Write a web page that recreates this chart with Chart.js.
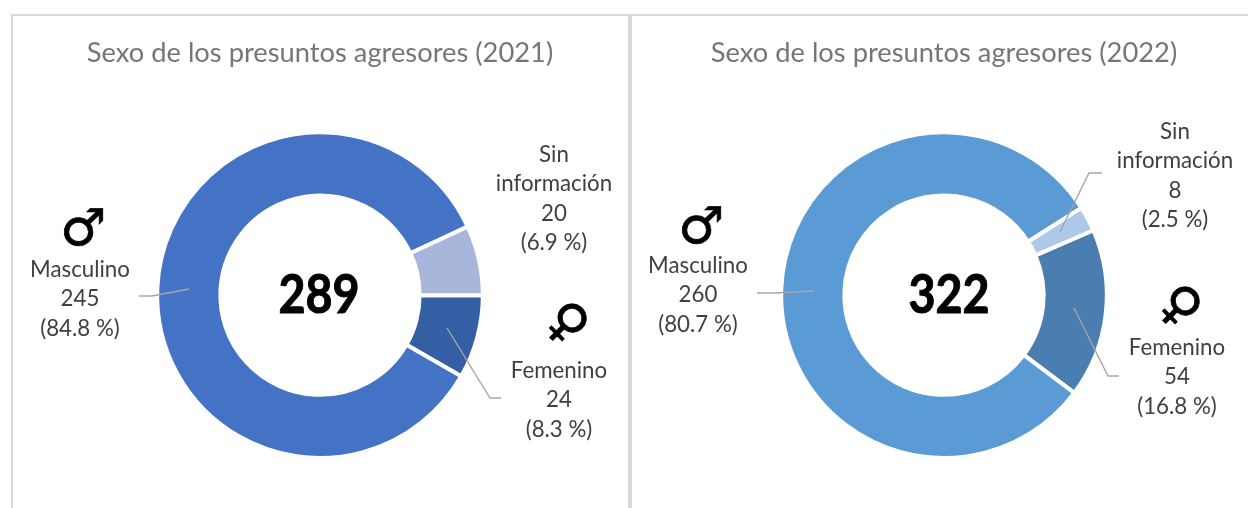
<!DOCTYPE html>
<html><head><meta charset="utf-8">
<style>
html,body{margin:0;padding:0;background:#fff;width:1248px;height:508px;overflow:hidden}
.panel{position:absolute;box-sizing:border-box;border:2px solid #d9d9d9;background:#fff}
canvas{position:absolute}
</style>
<script src="https://cdn.jsdelivr.net/npm/chart.js@4"></script>
</head><body>
<div class="panel" style="left:11px;top:14px;width:619px;height:520px"></div>
<div class="panel" style="left:630px;top:14px;width:640px;height:520px"></div>
<div style="position:absolute;left:11px;top:14px;width:1237px;height:2px;background:#d9d9d9"></div>
<canvas id="c1" style="left:13px;top:16px" width="614" height="492"></canvas>
<canvas id="c2" style="left:632px;top:16px" width="624" height="492"></canvas>
<script>
// ---- data ----
const categories = ["Femenino", "Masculino", "Sin información"];
const values2021 = [24, 245, 20];
const values2022 = [54, 260, 8];
const percents2021 = ["8.3", "84.8", "6.9"];
const percents2022 = ["16.8", "80.7", "2.5"];
const totals = [289, 322];
const titles = ["Sexo de los presuntos agresores (2021)", "Sexo de los presuntos agresores (2022)"];
const colors2021 = ["#355FA5", "#4472C4", "#A9B6DC"];
const colors2022 = ["#4A7EB0", "#5B9BD5", "#ADC8E9"];
const symbols = ["\u2640", "\u2642", null];

// ---- annotation layout (page coordinates) ----
const layout2021 = {
  rotation: 90, originX: 13, centerX: 319,
  labels: [
    {x: 559, y: 371, sym: {x: 565, y: 325}, leader: [[447,328],[490,398],[501,398]]},
    {x: 80, y: 270, sym: {x: 83, y: 232}, leader: [[139,296],[152,296],[189,289]]},
    {x: 554, y: 155, split: true}
  ]
};
const layout2022 = {
  rotation: 66.5, originX: 632, centerX: 949,
  labels: [
    {x: 1177, y: 348, sym: {x: 1178, y: 308}, leader: [[1074,308],[1108,376],[1119,376]]},
    {x: 698, y: 266, sym: {x: 701, y: 230}, leader: [[757,293],[775,293],[814,291]]},
    {x: 1175, y: 132, split: true, leader: [[1060,232],[1089,173],[1102,173]]}
  ]
};
const ORIGIN_Y = 16, LINE = 29.3;
const FONT = 'Lato, "Open Sans", sans-serif';

function annotations(cfg, values, percents, total) {
  return {
    id: "annot",
    afterDraw(chart) {
      const c = chart.ctx;
      const ox = cfg.originX, oy = ORIGIN_Y;
      c.save();
      c.textAlign = "center"; c.textBaseline = "middle";
      // centre total
      c.save();
      c.translate(cfg.centerX - ox, 296 - oy);
      c.scale(0.88, 1);
      c.fillStyle = "#000"; c.strokeStyle = "#000"; c.lineWidth = 1;
      c.font = "bold 53px " + FONT;
      c.fillText(String(total), 0, 0);
      c.strokeText(String(total), 0, 0);
      c.restore();
      cfg.labels.forEach((l, i) => {
        if (l.leader) {
          c.strokeStyle = "#a6a6a6"; c.lineWidth = 1.4;
          c.beginPath();
          l.leader.forEach((p, k) => k ? c.lineTo(p[0]-ox, p[1]-oy) : c.moveTo(p[0]-ox, p[1]-oy));
          c.stroke();
        }
        const name = l.split ? categories[i].split(" ") : [categories[i]];
        const lines = name.concat([String(values[i]), "(" + percents[i] + " %)"]);
        c.fillStyle = "#404040";
        c.font = "22.3px " + FONT;
        lines.forEach((t, k) => c.fillText(t, l.x - ox, l.y - oy + k * LINE));
        if (l.sym) {
          c.save();
          c.translate(l.sym.x - ox, l.sym.y - oy);
          if (symbols[i] === "\u2640") c.rotate(Math.PI / 4);
          c.font = "51px 'DejaVu Sans'";
          c.fillStyle = "#000"; c.strokeStyle = "#000"; c.lineWidth = 0.8;
          c.fillText(symbols[i], 0, 0);
          c.strokeText(symbols[i], 0, 0);
          c.restore();
        }
      });
      c.restore();
    }
  };
}

function make(id, title, values, colors, percents, total, cfg) {
  new Chart(document.getElementById(id), {
    type: "doughnut",
    data: { labels: categories, datasets: [{ data: values, backgroundColor: colors, borderColor: "#fff", borderWidth: 4 }] },
    options: {
      responsive: false, animation: false,
      rotation: cfg.rotation, cutout: "61.2%",
      layout: { padding: { bottom: 48 } },
      plugins: {
        legend: { display: false }, tooltip: { enabled: false },
        title: { display: true, text: title, color: "#767676",
          font: { family: FONT, size: 27.3, weight: "normal", lineHeight: 1.2 },
          padding: { top: 21, bottom: 60.6 } }
      }
    },
    plugins: [annotations(cfg, values, percents, total)]
  });
}
make("c1", titles[0], values2021, colors2021, percents2021, totals[0], layout2021);
make("c2", titles[1], values2022, colors2022, percents2022, totals[1], layout2022);
</script>
</body></html>
